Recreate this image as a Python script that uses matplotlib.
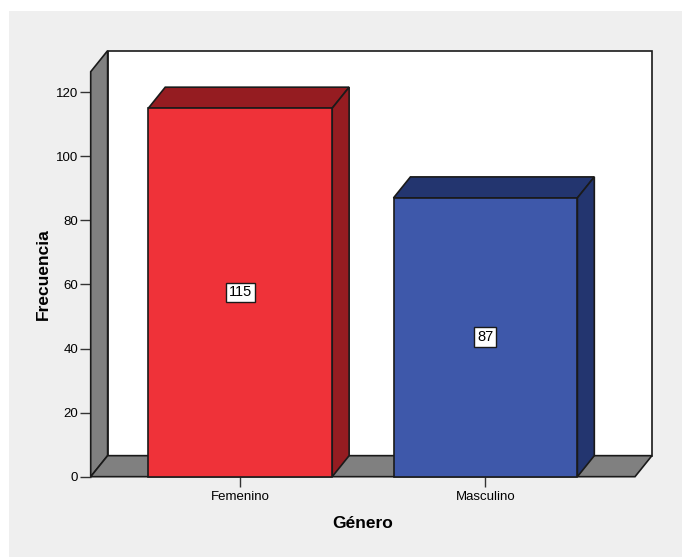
import matplotlib.pyplot as plt
from matplotlib.patches import Polygon, Rectangle

plt.rcParams['font.family'] = ['Liberation Sans', 'DejaVu Sans']

# Data
categories = ["Femenino", "Masculino"]
counts = [115, 87]
y_ticks = [0, 20, 40, 60, 80, 100, 120]

front_colors = ["#ef3239", "#3e58aa"]
dark_colors = ["#951c21", "#23356f"]

# Figure and plotting area
fig = plt.figure(figsize=(6.82, 5.57), dpi=100)
fig.patch.set_facecolor("white")
fig.add_artist(Rectangle((9 / 682, 0), 1, 1 - 11 / 557, transform=fig.transFigure,
                         facecolor="#efefef", edgecolor="none", zorder=-10))

ax = fig.add_axes([0.1330, 0.1442, 0.7981, 0.7271])
ax.set_facecolor("none")
for s in ax.spines.values():
    s.set_visible(False)

x0, x1 = -0.61, 1.61
top = 126.4
ax.set_xlim(x0, x1)
ax.set_ylim(0, top)

# depth of the 3D effect, in data units
dx = 0.069
dy = 6.56
bar_width = 0.75

edge = dict(edgecolor="#1a1a1a", linewidth=1.2, clip_on=False)

# back wall
ax.add_patch(Rectangle((x0 + dx, dy), x1 - x0, top, facecolor="white", zorder=1, **edge))
# left wall
ax.add_patch(Polygon([(x0, 0), (x0 + dx, dy), (x0 + dx, top + dy), (x0, top)],
                     facecolor="#808080", zorder=2, **edge))
# floor
ax.add_patch(Polygon([(x0, 0), (x1, 0), (x1 + dx, dy), (x0 + dx, dy)],
                     facecolor="#808080", zorder=2, **edge))

# bars
for i, (n, fc, dc) in enumerate(zip(counts, front_colors, dark_colors)):
    left = i - bar_width / 2
    right = i + bar_width / 2
    ax.add_patch(Polygon([(left, n), (left + dx, n + dy), (right + dx, n + dy), (right, n)],
                         facecolor=dc, zorder=3, **edge))
    ax.add_patch(Polygon([(right, 0), (right + dx, dy), (right + dx, n + dy), (right, n)],
                         facecolor=dc, zorder=3, **edge))
    ax.add_patch(Rectangle((left, 0), bar_width, n, facecolor=fc, zorder=4, **edge))
    ax.text(i, n / 2, str(n), ha="center", va="center", fontsize=10.5, zorder=5,
            bbox=dict(boxstyle="square,pad=0.2", facecolor="white", edgecolor="#1a1a1a", linewidth=1))

ax.set_yticks(y_ticks)
ax.set_yticklabels([str(t) for t in y_ticks])
ax.set_xticks(range(len(categories)))
ax.set_xticklabels(categories)
ax.tick_params(axis="y", length=8, width=1, color="#333333", labelsize=9.5, pad=1)
ax.tick_params(axis="x", length=7, width=1, color="#333333", labelsize=9.5, pad=3)

ax.set_xlabel("Género", fontsize=12.5, fontweight="bold", labelpad=10)
ax.set_ylabel("Frecuencia", fontsize=12.5, fontweight="bold", labelpad=4)

plt.savefig("out.png", dpi=100, facecolor=fig.get_facecolor())
